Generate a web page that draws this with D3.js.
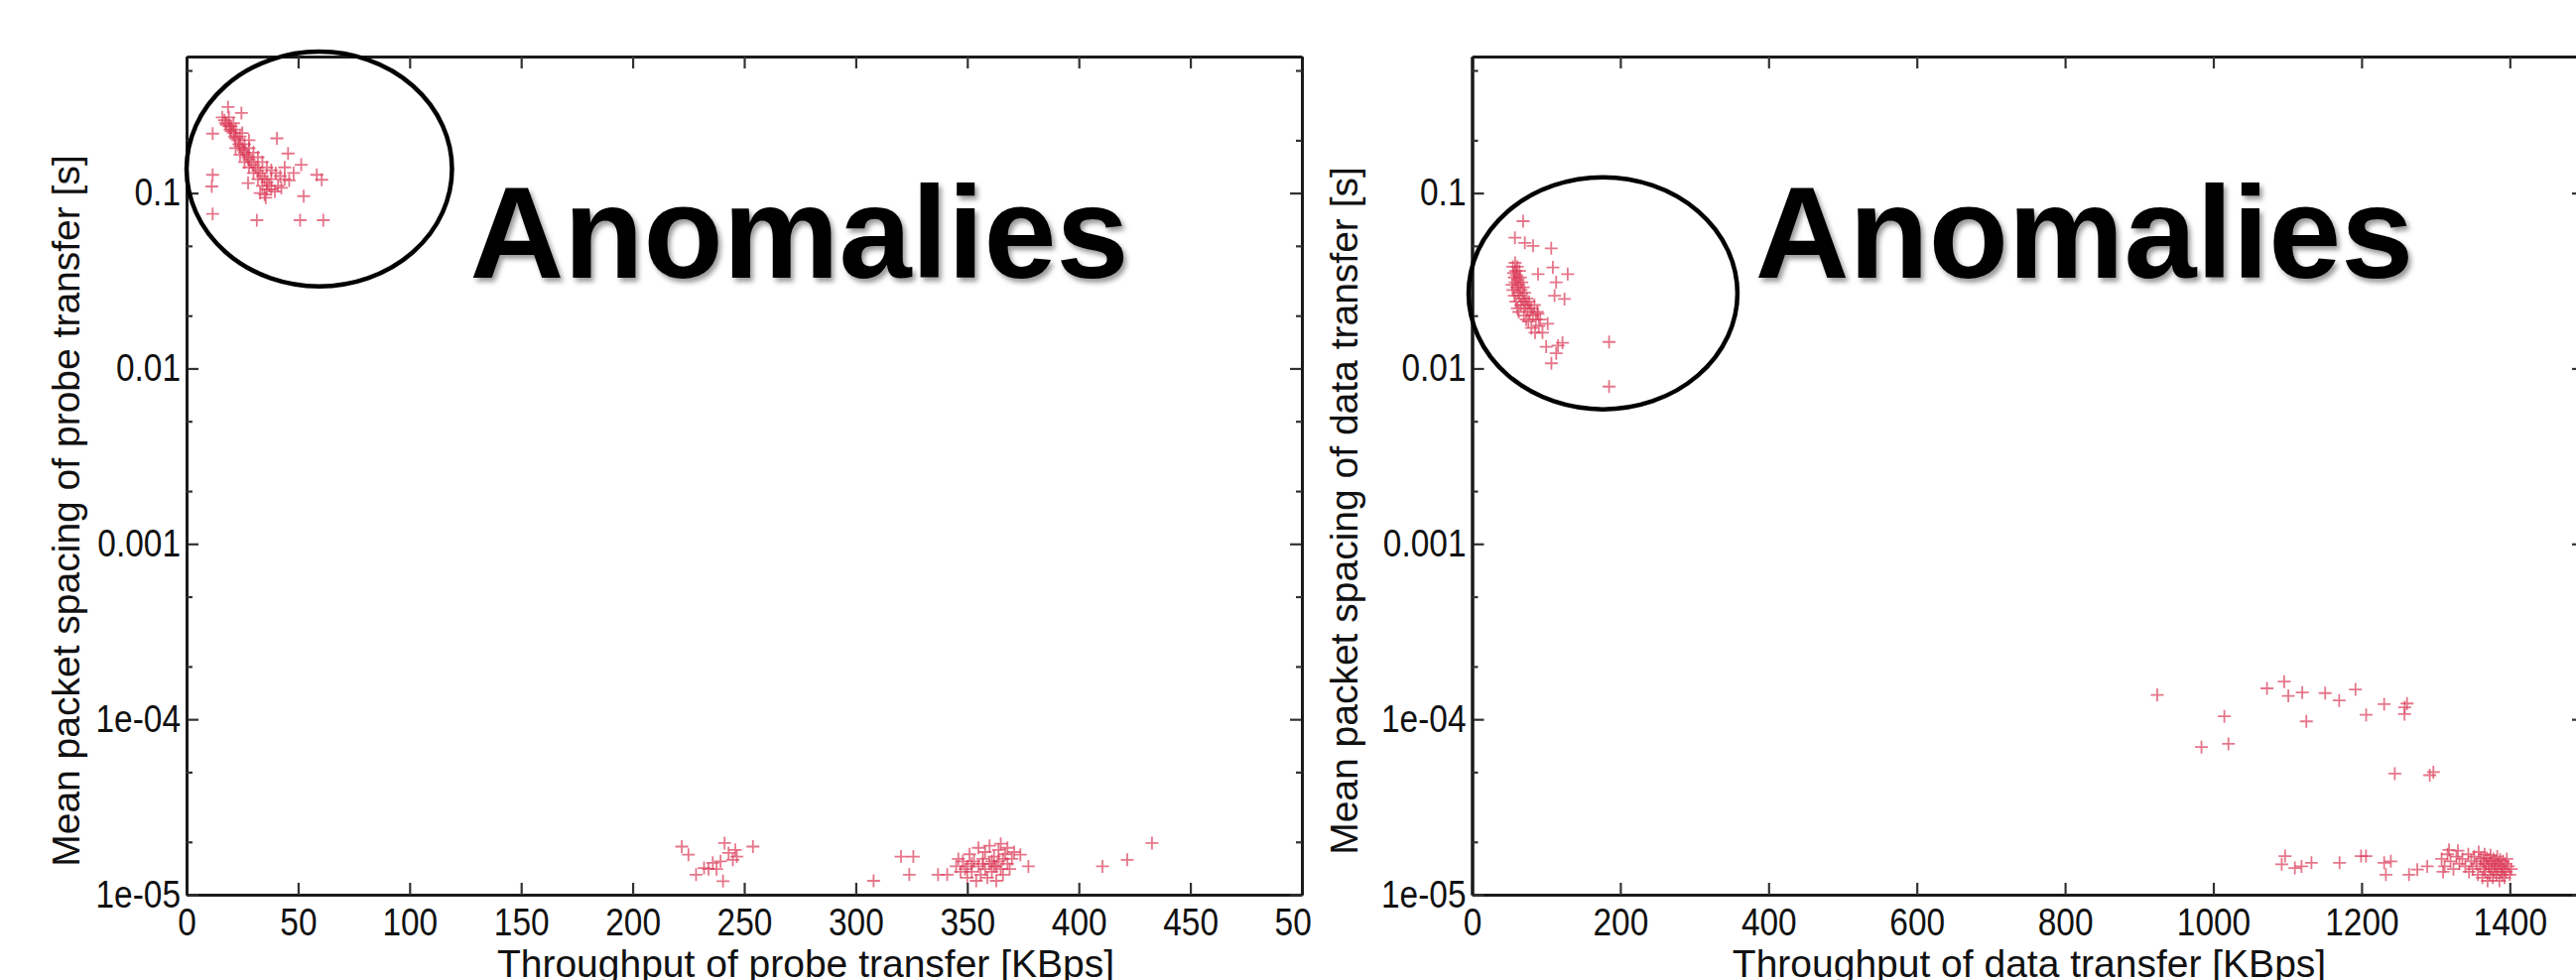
<!DOCTYPE html>
<html>
<head>
<meta charset="utf-8">
<script src="https://cdn.jsdelivr.net/npm/d3@7"></script>
<style>
  html, body { margin: 0; padding: 0; background: #fff; }
  svg { display: block; font-family: 'Liberation Sans', Arial, sans-serif; }
</style>
</head>
<body>
<svg id="chart" width="2596" height="988"></svg>
<script>
// tick values / labels
const probeTicks = [0, 50, 100, 150, 200, 250, 300, 350, 400, 450, 500]
const dataTicks = [0, 200, 400, 600, 800, 1000, 1200, 1400]
const spacingTicks = [1e-5, 1e-4, 1e-3, 1e-2, 1e-1]
const spacingLabels = ['1e-05', '1e-04', '0.001', '0.01', '0.1']
const spacingMinor = [2e-5, 5e-5, 2e-4, 5e-4, 2e-3, 5e-3, 0.02, 0.05, 0.2, 0.5]

// probe transfer: [throughput KBps, mean packet spacing s]
const probePoints = [
  [18.6, 0.309], [24.6, 0.286], [11.7, 0.218], [11.7, 0.127], [11.3, 0.109], [11.7, 0.076],
  [31.5, 0.070], [50.9, 0.070], [61.3, 0.070], [40.5, 0.205], [45.5, 0.168], [51.4, 0.145],
  [58.4, 0.127], [60.6, 0.119], [52.5, 0.096], [42.5, 0.107], [35.5, 0.094], [27.6, 0.114],
  [39.6, 0.102], [16, 0.27], [17, 0.26], [17.5, 0.25], [18, 0.245], [19, 0.24], [19.5, 0.23],
  [20, 0.225], [21, 0.22], [21.5, 0.21], [22, 0.205], [23, 0.2], [23.5, 0.19], [24, 0.185],
  [25, 0.18], [25.5, 0.175], [26, 0.17], [27, 0.165], [27.5, 0.16], [28, 0.155], [29, 0.15],
  [30, 0.145], [31, 0.14], [32, 0.135], [33, 0.13], [34, 0.125], [35, 0.12], [36, 0.115],
  [37, 0.11], [38, 0.105], [20, 0.24], [22, 0.23], [24, 0.21], [26, 0.19], [28, 0.18],
  [30, 0.17], [32, 0.16], [34, 0.15], [36, 0.14], [38, 0.135], [40, 0.13], [42, 0.125],
  [44, 0.12], [46, 0.118], [30, 0.13], [32, 0.12], [34, 0.11], [36, 0.105], [28, 0.14],
  [26, 0.15], [24, 0.165], [22, 0.18], [33, 0.1], [35, 0.098], [38, 0.12], [41, 0.11],
  [44, 0.14], [48, 0.13], [25, 0.22], [28, 0.2], [21, 0.25], [19, 0.27],
  [222, 1.88e-5], [225, 1.69e-5], [228.4, 1.30e-5], [232, 1.42e-5], [234, 1.40e-5],
  [237.6, 1.40e-5], [240.5, 1.195e-5], [241.2, 1.97e-5], [243, 1.73e-5], [244.9, 1.58e-5],
  [246, 1.80e-5], [246.7, 1.65e-5], [253.9, 1.88e-5], [239.4, 1.55e-5], [235.9, 1.52e-5],
  [308, 1.2e-5], [320.3, 1.65e-5], [325.8, 1.65e-5], [324, 1.3e-5], [336.9, 1.3e-5],
  [341, 1.3e-5], [377.4, 1.45e-5], [373.8, 1.69e-5],
  [345, 1.45e-5], [347, 1.35e-5], [348, 1.55e-5], [350, 1.25e-5], [350, 1.45e-5], [351, 1.7e-5],
  [352, 1.35e-5], [353, 1.55e-5], [354, 1.2e-5], [355, 1.45e-5], [355, 1.85e-5], [356, 1.3e-5],
  [357, 1.6e-5], [358, 1.4e-5], [358, 1.75e-5], [359, 1.25e-5], [360, 1.5e-5], [360, 1.9e-5],
  [361, 1.35e-5], [362, 1.65e-5], [362, 1.45e-5], [363, 1.2e-5], [364, 1.55e-5], [364, 1.8e-5],
  [365, 1.4e-5], [365, 1.95e-5], [366, 1.3e-5], [366, 1.6e-5], [367, 1.7e-5], [368, 1.5e-5],
  [368, 1.85e-5], [369, 1.4e-5], [370, 1.6e-5], [371, 1.75e-5], [346, 1.6e-5], [349, 1.4e-5],
  [357, 1.5e-5], [361, 1.55e-5], [363, 1.45e-5], [352, 1.5e-5],
  [410.6, 1.45e-5], [421.7, 1.58e-5], [432.8, 1.97e-5]
]

// data transfer: [throughput KBps, mean packet spacing s]
const dataPoints = [
  [68.9, 0.0691], [57.8, 0.0556], [71.2, 0.052], [82.3, 0.050], [106.8, 0.0484], [109, 0.0377],
  [129, 0.0345], [89, 0.0345], [113.4, 0.031], [111.3, 0.026], [124.7, 0.0249], [89, 0.0205],
  [102, 0.018], [100, 0.0133], [116, 0.0135], [113.5, 0.0122], [107, 0.0107], [122, 0.014],
  [184.8, 0.01416], [184.8, 0.00788],
  [55, 0.038], [56, 0.035], [57, 0.033], [58, 0.04], [58, 0.031], [59, 0.036], [60, 0.029],
  [60, 0.034], [61, 0.038], [62, 0.027], [62, 0.032], [63, 0.03], [64, 0.036], [64, 0.026],
  [65, 0.033], [66, 0.028], [67, 0.031], [68, 0.025], [69, 0.029], [70, 0.024], [71, 0.027],
  [72, 0.023], [74, 0.025], [75, 0.022], [77, 0.024], [78, 0.021], [80, 0.022], [82, 0.02],
  [84, 0.023], [86, 0.019], [88, 0.021], [54, 0.03], [55, 0.028], [57, 0.026], [59, 0.024],
  [61, 0.022], [63, 0.021], [66, 0.023], [70, 0.02], [73, 0.019], [76, 0.0185], [80, 0.017],
  [85, 0.016], [90, 0.0175], [95, 0.016], [92, 0.019],
  [924.3, 1.377e-4], [1014.9, 1.04e-4], [984, 6.94e-5], [1020.4, 7.24e-5], [1072.4, 1.5e-4],
  [1095.6, 1.64e-4], [1101.2, 1.36e-4], [1120, 1.42e-4], [1125.5, 9.73e-5], [1150.9, 1.41e-4],
  [1169.8, 1.28e-4], [1191.8, 1.48e-4], [1206.2, 1.06e-4], [1230.5, 1.22e-4], [1258.2, 1.17e-4],
  [1261.4, 1.23e-4], [1258, 1.07e-4], [1244.8, 4.9e-5], [1296.9, 5.0e-5], [1292, 4.8e-5],
  [1096.8, 1.66e-5], [1092.3, 1.49e-5], [1110, 1.42e-5], [1119, 1.45e-5], [1132.4, 1.52e-5],
  [1170.3, 1.52e-5], [1199.3, 1.66e-5], [1206, 1.66e-5], [1230.5, 1.52e-5], [1239.5, 1.55e-5],
  [1232.8, 1.3e-5], [1264, 1.3e-5], [1275.2, 1.39e-5], [1288.6, 1.45e-5],
  [1308, 1.6e-5], [1312, 1.45e-5], [1316, 1.7e-5], [1320, 1.55e-5], [1324, 1.4e-5], [1328, 1.65e-5],
  [1332, 1.5e-5], [1336, 1.6e-5], [1340, 1.45e-5], [1344, 1.7e-5], [1348, 1.55e-5], [1350, 1.4e-5],
  [1352, 1.65e-5], [1355, 1.5e-5], [1357, 1.3e-5], [1358, 1.75e-5], [1360, 1.45e-5], [1361, 1.6e-5],
  [1363, 1.25e-5], [1364, 1.55e-5], [1365, 1.4e-5], [1366, 1.7e-5], [1367, 1.35e-5], [1368, 1.5e-5],
  [1369, 1.62e-5], [1370, 1.2e-5], [1371, 1.45e-5], [1372, 1.55e-5], [1373, 1.3e-5], [1374, 1.68e-5],
  [1375, 1.4e-5], [1376, 1.5e-5], [1377, 1.25e-5], [1378, 1.6e-5], [1379, 1.35e-5], [1380, 1.45e-5],
  [1381, 1.55e-5], [1382, 1.3e-5], [1383, 1.65e-5], [1384, 1.4e-5], [1385, 1.5e-5], [1386, 1.2e-5],
  [1387, 1.58e-5], [1388, 1.35e-5], [1389, 1.45e-5], [1390, 1.3e-5], [1391, 1.55e-5], [1392, 1.4e-5],
  [1393, 1.25e-5], [1394, 1.5e-5], [1395, 1.35e-5], [1396, 1.6e-5], [1398, 1.45e-5], [1400, 1.3e-5],
  [1402, 1.4e-5], [1318, 1.8e-5], [1330, 1.78e-5], [1345, 1.35e-5], [1310, 1.35e-5]
]

const W = 2596
const H = 988
const plotTop = 57
const plotBottom = 902
const pointColor = '#dc3c58'

const svg = d3.select('#chart')

const defs = svg.append('defs')
defs.append('filter')
  .attr('id', 'shadow')
  .attr('x', '-5%').attr('y', '-20%').attr('width', '110%').attr('height', '140%')
  .append('feGaussianBlur')
  .attr('stdDeviation', 2.5)

svg.append('rect')
  .attr('width', W)
  .attr('height', H)
  .attr('fill', '#fff')

// squeeze text horizontally (the original labels are narrow and tall)
function squeeze(sel, k) {
  sel.each(function() {
    const len = this.getComputedTextLength()
    if(len > 0) {
      d3.select(this)
        .attr('textLength', len * k)
        .attr('lengthAdjust', 'spacingAndGlyphs')
    }
  })
}

function panel(cfg) {
  const g = svg.append('g')

  if(cfg.bgLeft) {
    g.append('rect')
      .attr('x', cfg.bgLeft)
      .attr('y', 0)
      .attr('width', W - cfg.bgLeft)
      .attr('height', H)
      .attr('fill', '#fff')
  }

  const x = d3.scaleLinear().domain(cfg.xDomain).range([cfg.left, cfg.right])
  const y = d3.scaleLog().domain([1e-5, 0.6]).range([plotBottom, plotTop])

  // points
  g.append('g')
    .selectAll('path')
    .data(cfg.points)
    .join('path')
    .attr('transform', d => `translate(${x(d[0])},${y(d[1])})`)
    .attr('d', 'M-6.5,0H6.5M0,-6.5V6.5')
    .attr('stroke', pointColor)
    .attr('stroke-opacity', 0.7)
    .attr('stroke-width', 1.8)
    .attr('fill', 'none')

  const styleAxis = sel => {
    sel.select('.domain').attr('stroke', '#1a1a1a').attr('stroke-width', 3)
    sel.selectAll('.tick line').attr('stroke', '#333').attr('stroke-width', 2.2)
    sel.selectAll('.tick text')
      .attr('fill', '#111')
      .attr('font-size', 38)
      .attr('font-family', "'Liberation Sans', Arial, sans-serif")
      .call(squeeze, 0.88)
  }

  g.append('g')
    .attr('transform', `translate(0,${plotBottom})`)
    .call(d3.axisBottom(x).tickValues(cfg.xTicks).tickFormat(d => String(d))
      .tickSize(-12).tickSizeOuter(0).tickPadding(14))
    .call(styleAxis)

  g.append('g')
    .attr('transform', `translate(0,${plotTop})`)
    .call(d3.axisTop(x).tickValues(cfg.xTicks).tickFormat('')
      .tickSize(-12).tickSizeOuter(0))
    .call(styleAxis)

  g.append('g')
    .attr('transform', `translate(${cfg.left},0)`)
    .call(d3.axisLeft(y).tickValues(spacingTicks).tickFormat((d, i) => spacingLabels[i])
      .tickSize(-12).tickSizeOuter(0).tickPadding(6))
    .call(styleAxis)

  g.append('g')
    .attr('transform', `translate(${cfg.left},0)`)
    .call(d3.axisLeft(y).tickValues(spacingMinor).tickFormat('').tickSize(-6).tickSizeOuter(0))
    .call(styleAxis)

  g.append('g')
    .attr('transform', `translate(${cfg.right},0)`)
    .call(d3.axisRight(y).tickValues(spacingTicks).tickFormat('').tickSize(-12).tickSizeOuter(0))
    .call(styleAxis)

  g.append('g')
    .attr('transform', `translate(${cfg.right},0)`)
    .call(d3.axisRight(y).tickValues(spacingMinor).tickFormat('').tickSize(-6).tickSizeOuter(0))
    .call(styleAxis)

  // titles
  g.append('text')
    .attr('x', cfg.xTitleX)
    .attr('y', 985)
    .attr('text-anchor', 'middle')
    .attr('font-size', 39)
    .attr('fill', '#111')
    .text(cfg.xTitle)

  g.append('text')
    .attr('transform', `translate(${cfg.yTitleX},515) rotate(-90)`)
    .attr('text-anchor', 'middle')
    .attr('font-size', 39)
    .attr('fill', '#111')
    .text(cfg.yTitle)

  // annotation ellipse
  const e = cfg.ellipse
  g.append('ellipse')
    .attr('cx', (x(e.x[0]) + x(e.x[1])) / 2)
    .attr('cy', (y(e.y[0]) + y(e.y[1])) / 2)
    .attr('rx', Math.abs(x(e.x[1]) - x(e.x[0])) / 2)
    .attr('ry', Math.abs(y(e.y[1]) - y(e.y[0])) / 2)
    .attr('fill', 'none')
    .attr('stroke', '#000')
    .attr('stroke-width', 4.5)

  const lx = x(cfg.label.x)
  const ly = y(cfg.label.y)
  const labelWidth = x(cfg.label.x + cfg.label.w) - lx
  g.append('text')
    .attr('x', lx + 3)
    .attr('y', ly + 4)
    .attr('font-size', 132)
    .attr('font-weight', 'bold')
    .attr('fill', '#9a9a9a')
    .attr('filter', 'url(#shadow)')
    .attr('textLength', labelWidth)
    .attr('lengthAdjust', 'spacingAndGlyphs')
    .text('Anomalies')
  g.append('text')
    .attr('x', lx)
    .attr('y', ly)
    .attr('font-size', 132)
    .attr('font-weight', 'bold')
    .attr('fill', '#000')
    .attr('textLength', labelWidth)
    .attr('lengthAdjust', 'spacingAndGlyphs')
    .text('Anomalies')
}

panel({
  xDomain: [0, 500],
  xTicks: probeTicks,
  left: 188,
  right: 1312,
  points: probePoints,
  xTitle: 'Throughput of probe transfer [KBps]',
  xTitleX: 812,
  yTitle: 'Mean packet spacing of probe transfer [s]',
  yTitleX: 80,
  ellipse: {x: [0, 119], y: [0.0294, 0.64]},
  label: {x: 127, y: 0.033, w: 295.4}
})

panel({
  bgLeft: 1322,
  xDomain: [0, 1500],
  xTicks: dataTicks,
  left: 1483.5,
  right: 2604,
  points: dataPoints,
  xTitle: 'Throughput of data transfer [KBps]',
  xTitleX: 2045,
  yTitle: 'Mean packet spacing of data transfer [s]',
  yTitleX: 1368,
  ellipse: {x: [-4.7, 358], y: [0.00585, 0.123]},
  label: {x: 382, y: 0.033, w: 888}
})
</script>
</body>
</html>
